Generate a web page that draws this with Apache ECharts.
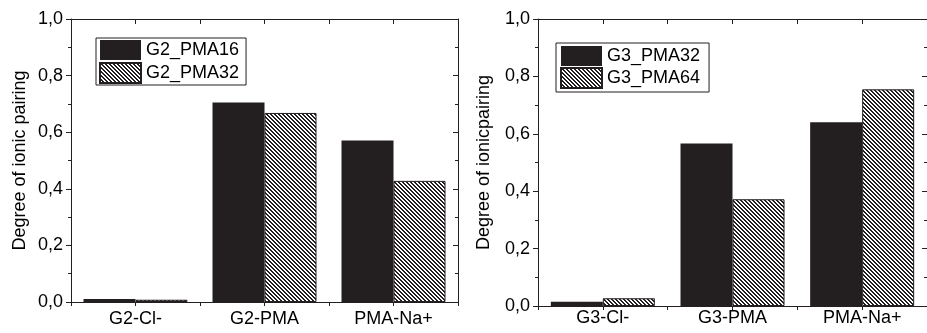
<!DOCTYPE html>
<html>
<head>
<meta charset="utf-8">
<script src="https://cdn.jsdelivr.net/npm/echarts@6/dist/echarts.min.js"></script>
<style>
  html, body { margin: 0; padding: 0; background: #fff; overflow: hidden; }
  #chart { width: 927px; height: 333px; }
</style>
</head>
<body>
<div id="chart"></div>
<script>
// left panel
var cats1 = ['G2-Cl-', 'G2-PMA', 'PMA-Na+']
var g2Pma16 = [0.011, 0.705, 0.571]
var g2Pma32 = [0.008, 0.668, 0.428]
// right panel
var cats2 = ['G3-Cl-', 'G3-PMA', 'PMA-Na+']
var g3Pma32 = [0.015, 0.566, 0.640]
var g3Pma64 = [0.027, 0.372, 0.755]

var yTicks = { min: 0, max: 1, interval: 0.2 }

var ink = '#231f20'
var font = 'Liberation Sans'

// diagonal hatch tile
function hatch() {
  var c = document.createElement('canvas')
  c.width = 4
  c.height = 4
  var ctx = c.getContext('2d')
  ctx.fillStyle = '#fff'
  ctx.fillRect(0, 0, 4, 4)
  ctx.fillStyle = ink
  for (var i = 0; i < 4; i++) {
    ctx.fillRect(i, i, 1, 1)
    ctx.fillRect((i + 1) % 4, i, 1, 1)
  }
  return c
}
var hatchFill = { image: hatch(), repeat: 'repeat' }

var line = { show: true, lineStyle: { color: ink, width: 1 } }

function xAxes(grid, cats, labelMargin) {
  return [
    { // bottom, boundary ticks + labels
      type: 'category', gridIndex: grid, data: cats, position: 'bottom',
      axisLine: line,
      axisTick: { show: true, alignWithLabel: false, length: 4, lineStyle: { color: ink } },
      axisLabel: { color: '#000', fontSize: 18, fontFamily: font, margin: labelMargin },
    },
    { // bottom, centre ticks
      type: 'category', gridIndex: grid, data: cats, position: 'bottom',
      axisLine: { show: false },
      axisTick: { show: true, alignWithLabel: true, length: 4, lineStyle: { color: ink } },
      axisLabel: { show: false },
    },
    { // top, boundary ticks
      type: 'category', gridIndex: grid, data: cats, position: 'top',
      axisLine: line,
      axisTick: { show: true, inside: true, alignWithLabel: false, length: 5, lineStyle: { color: ink } },
      axisLabel: { show: false },
    },
    { // top, centre ticks
      type: 'category', gridIndex: grid, data: cats, position: 'top',
      axisLine: { show: false },
      axisTick: { show: true, inside: true, alignWithLabel: true, length: 5, lineStyle: { color: ink } },
      axisLabel: { show: false },
    },
  ]
}

function yAxes(grid, name, nameGap) {
  return [
    {
      type: 'value', gridIndex: grid, position: 'left',
      min: yTicks.min, max: yTicks.max, interval: yTicks.interval,
      name: name, nameLocation: 'middle', nameGap: nameGap,
      nameTextStyle: { color: '#000', fontSize: 18, fontFamily: font },
      axisLine: line,
      axisTick: { show: true, length: 5, lineStyle: { color: ink } },
      minorTick: { show: true, splitNumber: 2, length: 3, lineStyle: { color: ink } },
      splitLine: { show: false },
      axisLabel: {
        color: '#000', fontSize: 18, fontFamily: font, margin: 8,
        formatter: function (v) { return v.toFixed(1).replace('.', ',') },
      },
    },
    {
      type: 'value', gridIndex: grid, position: 'right',
      min: yTicks.min, max: yTicks.max, interval: yTicks.interval,
      axisLine: line,
      axisTick: { show: true, inside: true, length: 5, lineStyle: { color: ink } },
      minorTick: { show: true, splitNumber: 2, length: 3, lineStyle: { color: ink } },
      splitLine: { show: false },
      axisLabel: { show: false },
    },
  ]
}

function bars(name, data, grid, hatched) {
  return {
    name: name,
    type: 'bar',
    xAxisIndex: grid * 4,
    yAxisIndex: grid * 2,
    data: data,
    barWidth: 52,
    barGap: '0%',
    itemStyle: {
      color: hatched ? hatchFill : ink,
      borderColor: ink,
      borderWidth: hatched ? 1 : 0,
    },
  }
}

var legendBase = {
  orient: 'vertical',
  icon: 'rect',
  itemWidth: 41,
  itemHeight: 20,
  itemGap: 2,
  borderColor: ink,
  borderWidth: 1,
  borderRadius: 0,
  selectedMode: false,
  textStyle: { color: '#000', fontSize: 18, fontFamily: font },
}

var chart = echarts.init(document.getElementById('chart'), null, { renderer: 'canvas' })
chart.setOption({
  animation: false,
  backgroundColor: '#fff',
  grid: [
    { left: 71, top: 19, width: 387, height: 283 },
    { left: 538, top: 19, width: 393, height: 287 },
  ],
  xAxis: xAxes(0, cats1, 8).concat(xAxes(1, cats2, 3)),
  yAxis: yAxes(0, 'Degree of ionic pairing', 42).concat(yAxes(1, 'Degree of ionicpairing', 45)),
  legend: [
    Object.assign({}, legendBase, {
      data: ['G2_PMA16', 'G2_PMA32'],
      left: 96, top: 38,
      padding: [2, 7, 1, 3],
    }),
    Object.assign({}, legendBase, {
      data: ['G3_PMA32', 'G3_PMA64'],
      left: 556, top: 43,
      itemGap: 1,
      padding: [3, 9, 3, 4],
    }),
  ],
  series: [
    bars('G2_PMA16', g2Pma16, 0, false),
    bars('G2_PMA32', g2Pma32, 0, true),
    bars('G3_PMA32', g3Pma32, 1, false),
    bars('G3_PMA64', g3Pma64, 1, true),
  ],
})
</script>
</body>
</html>
